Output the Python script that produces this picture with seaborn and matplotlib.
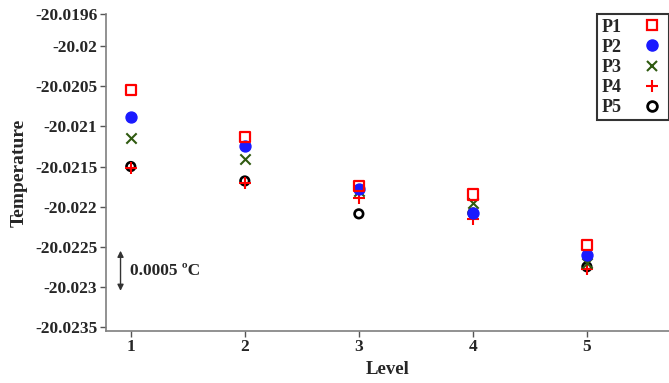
import matplotlib
matplotlib.use("Agg")
import matplotlib.pyplot as plt
from matplotlib.lines import Line2D
import seaborn as sns

# Measured temperatures at each level for the five probes
levels = [1, 2, 3, 4, 5]
p1 = [-20.02055, -20.02113, -20.02174, -20.02185, -20.02248]
p2 = [-20.02088, -20.02125, -20.02178, -20.02208, -20.02260]
p3 = [-20.02114, -20.02141, -20.02180, -20.02196, -20.02270]
p4 = [-20.02152, -20.02170, -20.02189, -20.02216, -20.02278]
p5 = [-20.02150, -20.02168, -20.02209, -20.02208, -20.02275]
series_names = ["P1", "P2", "P3", "P4", "P5"]

y_ticks = [-20.0196, -20.02, -20.0205, -20.021, -20.0215, -20.022, -20.0225, -20.023, -20.0235]
y_tick_labels = ["-20.0196", "-20.02", "-20.0205", "-20.021", "-20.0215",
                 "-20.022", "-20.0225", "-20.023", "-20.0235"]
scale_span = 0.0005

sns.set_style("ticks")
plt.rcParams["font.family"] = ["Liberation Serif", "DejaVu Serif"]
plt.rcParams["font.weight"] = "bold"

fig = plt.figure(figsize=(6.69, 3.83), dpi=100)
ax = fig.add_axes([0.158, 0.136, 0.842, 0.827])

styles = {
    "P1": dict(marker="s", color="#ff0000", facecolor="none", edgecolor="#ff0000", s=55, linewidths=1.6),
    "P2": dict(marker="o", color="#1a1aff", edgecolor="#1a1aff", s=62, linewidths=1.0),
    "P3": dict(marker="x", color="#2f5a10", s=55, linewidths=1.5),
    "P4": dict(marker="+", color="#ff0000", s=70, linewidths=1.5),
    "P5": dict(marker="o", color="black", facecolor="none", edgecolor="black", s=38, linewidths=1.9),
}
values = {"P1": p1, "P2": p2, "P3": p3, "P4": p4, "P5": p5}
# later series are drawn underneath earlier ones
for name in ["P5", "P4", "P3", "P2", "P1"]:
    sns.scatterplot(x=levels, y=values[name], ax=ax, legend=False, zorder=3, **styles[name])

ax.set_xlim(0.78, 5.72)
ax.set_ylim(-20.02355, -20.0196)
ax.set_xticks(levels)
ax.set_xticklabels([str(v) for v in levels], fontsize=12.5, fontweight="bold")
ax.set_yticks(y_ticks)
ax.set_yticklabels(y_tick_labels, fontsize=12.5, fontweight="bold")
ax.set_xlabel("Level", fontsize=13.5, fontweight="bold", labelpad=4)
ax.set_ylabel("Temperature", fontsize=14, fontweight="bold", labelpad=5)

for side in ("top", "right"):
    ax.spines[side].set_visible(False)
for side in ("left", "bottom"):
    ax.spines[side].set_color("#7f7f7f")
    ax.spines[side].set_linewidth(1.2)
ax.tick_params(axis="both", direction="out", length=4, width=1, color="#555555", pad=2)

# Scale bar showing a 0.0005 degree interval
y0 = -20.02255
ax.annotate("", xy=(0.91, y0), xytext=(0.91, y0 - scale_span),
            arrowprops=dict(arrowstyle="<|-|>", color="#333333", lw=1.0,
                            mutation_scale=9, shrinkA=0, shrinkB=0))
ax.text(0.99, y0 - scale_span / 2, "0.0005 \u00baC", fontsize=12.5, fontweight="bold",
        va="center", ha="left")

handles = [
    Line2D([], [], linestyle="none", marker="s", markerfacecolor="none", markeredgecolor="#ff0000", markersize=7, markeredgewidth=1.6),
    Line2D([], [], linestyle="none", marker="o", color="#1a1aff", markersize=8),
    Line2D([], [], linestyle="none", marker="x", color="#2f5a10", markersize=7, markeredgewidth=1.5),
    Line2D([], [], linestyle="none", marker="+", color="#ff0000", markersize=8, markeredgewidth=1.5),
    Line2D([], [], linestyle="none", marker="o", markerfacecolor="none", markeredgecolor="black", markersize=7, markeredgewidth=2),
]
leg = ax.legend(handles, series_names, loc="upper right", bbox_to_anchor=(1.0, 1.0),
                markerfirst=False, frameon=True, fancybox=False, fontsize=13,
                handlelength=1.4, handletextpad=1.0, labelspacing=0.17,
                borderpad=0.25, borderaxespad=0.0)
leg.get_frame().set_edgecolor("black")
leg.get_frame().set_linewidth(1.5)

fig.savefig("out.png", dpi=100)
